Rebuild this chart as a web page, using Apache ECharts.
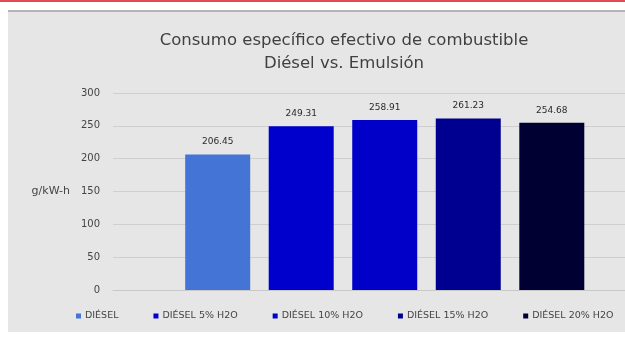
<!DOCTYPE html>
<html>
<head>
<meta charset="utf-8">
<style>
  html, body { margin: 0; padding: 0; background: #ffffff; }
  #chart { width: 625px; height: 338px; }
</style>
<script src="https://cdn.jsdelivr.net/npm/echarts@6/dist/echarts.min.js"></script>
</head>
<body>
<div id="chart"></div>
<script>
// Specific fuel consumption per blend
const seriesNames = ['DIÉSEL', 'DIÉSEL 5% H2O', 'DIÉSEL 10% H2O', 'DIÉSEL 15% H2O', 'DIÉSEL 20% H2O'];
const consumption = [206.45, 249.31, 258.91, 261.23, 254.68];
const barColors = ['#4474d6', '#0000cc', '#0000c8', '#000090', '#000033'];
const yTicks = { min: 0, max: 300, interval: 50 };

const FONT = 'DejaVu Sans';
const chart = echarts.init(document.getElementById('chart'), null, { renderer: 'canvas' });

// Empty leading slot so the bar group sits right of the category centre
const spacer = {
  name: 'spacer',
  type: 'bar',
  data: [0],
  barWidth: 24.5,
  barGap: '28.5%',
  silent: true,
  itemStyle: { color: 'rgba(0,0,0,0)' },
  label: { show: false }
};

const series = [spacer].concat(seriesNames.map((name, i) => ({
  name: name,
  type: 'bar',
  data: [consumption[i]],
  barWidth: 65,
  barGap: '28.5%',
  itemStyle: { color: barColors[i] },
  label: {
    show: true,
    position: 'top',
    distance: 8,
    formatter: (p) => p.value.toFixed(2),
    color: '#2a2a2a',
    fontSize: 9,
    fontFamily: FONT
  }
})));

chart.setOption({
  backgroundColor: '#ffffff',
  animation: false,
  graphic: [
    { type: 'rect', z: -10, silent: true, shape: { x: 0, y: 0, width: 625, height: 2 }, style: { fill: '#e24b55' } },
    { type: 'rect', z: -10, silent: true, shape: { x: 8, y: 10, width: 617, height: 322 }, style: { fill: '#e6e6e6' } },
    { type: 'rect', z: -9, silent: true, shape: { x: 8, y: 10, width: 617, height: 2 }, style: { fill: '#b4b4b4' } }
  ],
  title: [
    {
      text: 'Consumo específico efectivo de combustible',
      left: 339, top: 27, textAlign: 'center',
      textStyle: { fontSize: 16.5, fontWeight: 'normal', color: '#404040', fontFamily: FONT }
    },
    {
      text: 'Diésel vs. Emulsión',
      left: 339, top: 50, textAlign: 'center',
      textStyle: { fontSize: 16.5, fontWeight: 'normal', color: '#404040', fontFamily: FONT }
    }
  ],
  legend: {
    data: seriesNames,
    bottom: 12,
    left: 71,
    itemWidth: 5,
    itemHeight: 5,
    itemGap: 35,
    icon: 'rect',
    textStyle: { fontSize: 9.5, color: '#444444', fontFamily: FONT, padding: [0, 0, 0, -1] }
  },
  grid: { left: 113, right: 0, top: 93, bottom: 48, containLabel: false },
  xAxis: {
    type: 'category',
    data: [''],
    axisLine: { show: true, lineStyle: { color: '#c8c8c8', width: 1 } },
    axisTick: { show: false },
    axisLabel: { show: false }
  },
  yAxis: {
    type: 'value',
    min: yTicks.min,
    max: yTicks.max,
    interval: yTicks.interval,
    name: 'g/kW-h',
    nameLocation: 'middle',
    nameRotate: 0,
    nameGap: 43,
    nameTextStyle: { fontSize: 11, color: '#444444', fontFamily: FONT, align: 'right' },
    axisLine: { show: false },
    axisTick: { show: false },
    axisLabel: { fontSize: 10, color: '#444444', margin: 13, fontFamily: FONT },
    splitLine: { lineStyle: { color: '#cfcfcf', width: 1 } }
  },
  series: series
});
</script>
</body>
</html>
